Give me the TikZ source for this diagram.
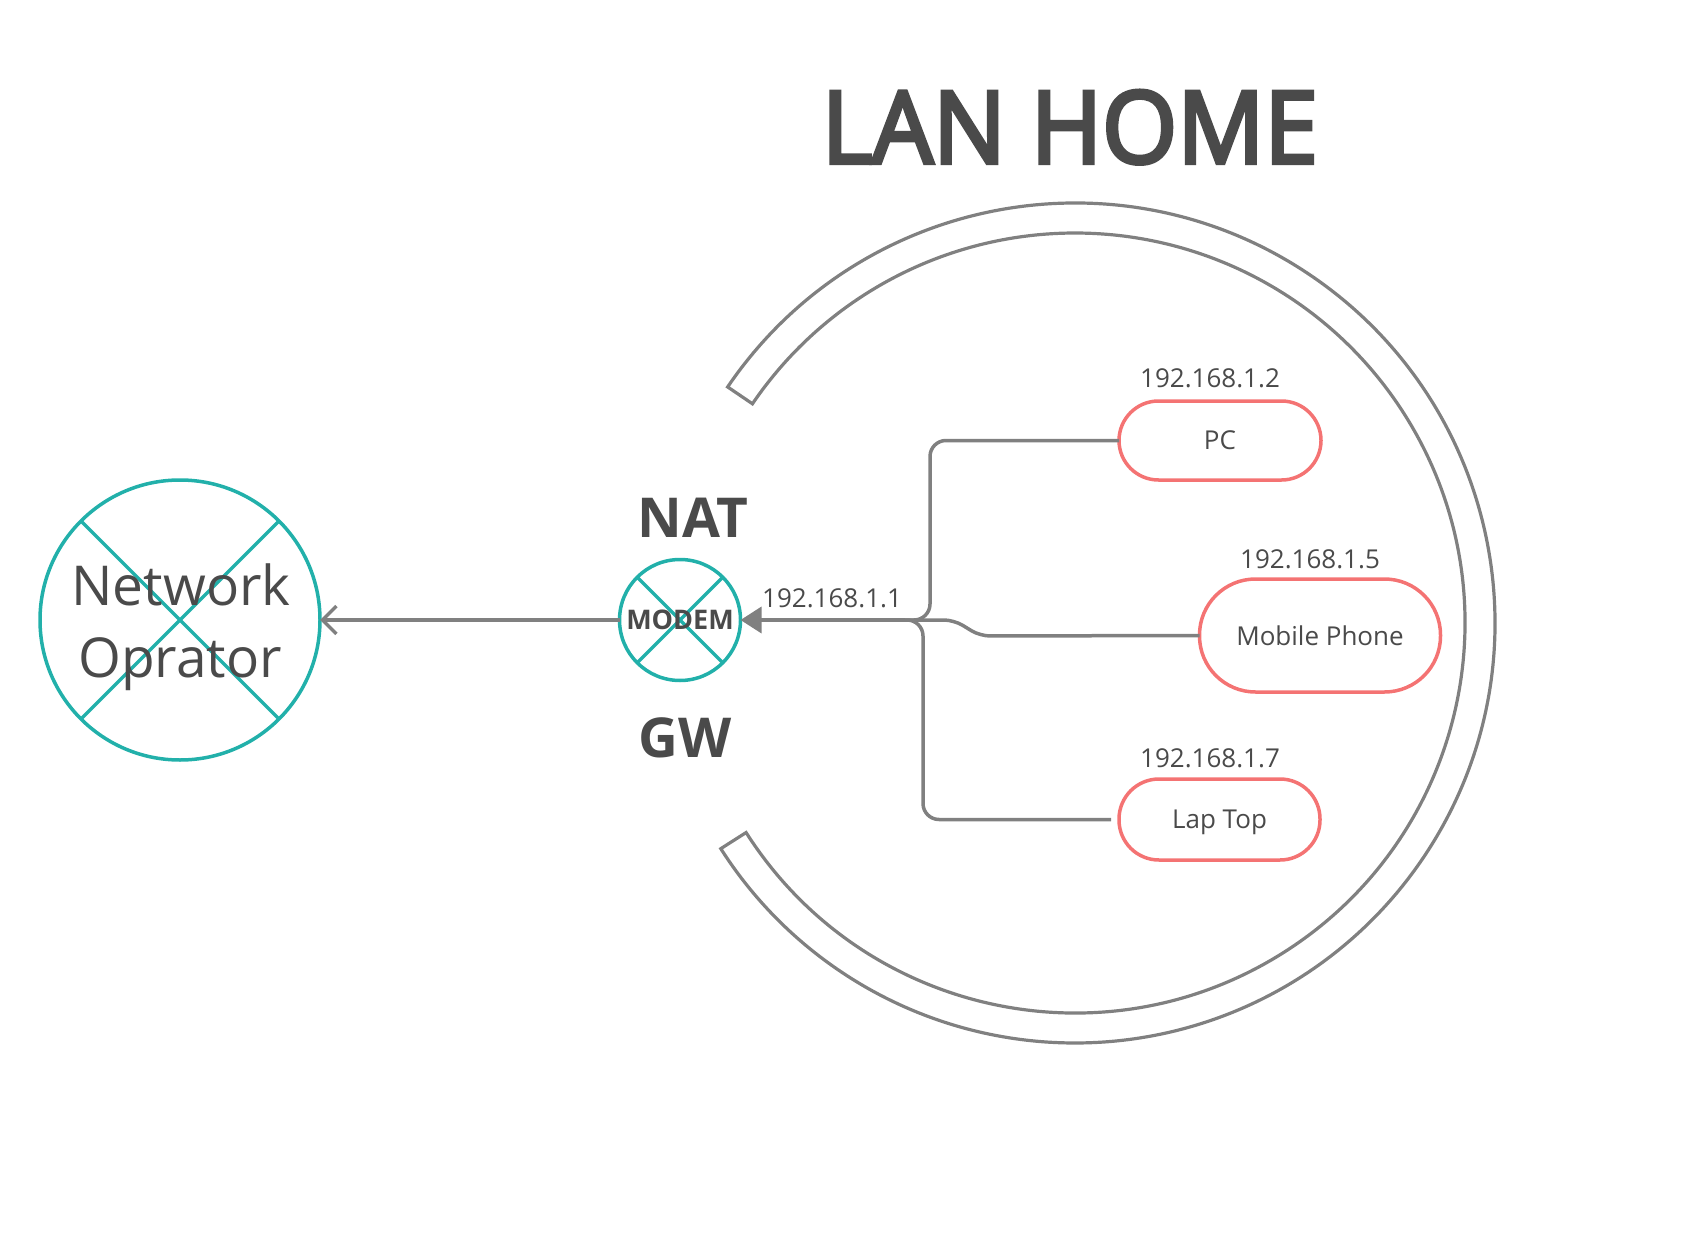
\documentclass[tikz,border=0pt]{standalone}
\usepackage{fontspec}
\setmainfont{Open Sans}
\newfontfamily\titlefont[FakeBold=4]{Open Sans}
\usetikzlibrary{arrows.meta,calc}
\definecolor{tealc}{HTML}{22B0AA}
\definecolor{lineg}{HTML}{808080}
\definecolor{txtc}{HTML}{4A4A4A}
\definecolor{boxr}{HTML}{F47373}
\begin{document}
\begin{tikzpicture}[x=1pt,y=-1pt,
  con/.style={draw=lineg, line width=3.5pt},
  xcirc/.style={circle, draw=tealc, line width=3.5pt, inner sep=0pt, outer sep=0pt},
  xline/.style={draw=tealc, line width=3.5pt},
  devbox/.style={draw=boxr, line width=3.5pt, inner sep=0pt, outer sep=0pt, text depth=0pt,
                 text=txtc, font=\fontsize{26}{30}\selectfont},
  iplabel/.style={anchor=base, text=txtc, inner sep=0pt, font=\fontsize{26}{30}\selectfont},
  bigbold/.style={anchor=base, text=txtc, inner sep=0pt, font=\bfseries\fontsize{55}{66}\selectfont},
  ringline/.style={draw=lineg, line width=3.2pt, line join=miter}
]
\useasboundingbox (0,0) rectangle (1697,1249);

% title
\node[anchor=base, text=txtc, inner sep=0pt, font=\titlefont\fontsize{100}{120}\selectfont] (title) at (1070,163) {\scalebox{0.965}[1]{LAN HOME}};

% ring
\coordinate (ringc) at (1075,623);
\draw[ringline] ([shift={(-145.8:420)}]ringc) arc[start angle=-145.8, end angle=147.5, radius=420]
  -- ([shift={(147.5:390)}]ringc) arc[start angle=147.5, end angle=-145.8, radius=390] -- cycle;

% network operator
\node[xcirc, minimum size=280pt] (netop) at (180,620) {};
\draw[xline] (netop.45) -- (netop.225) (netop.135) -- (netop.-45);
\node[anchor=base, text=txtc, inner sep=0pt, font=\fontsize{55}{66}\selectfont] (netl1) at (181,605) {Network};
\node[anchor=base, text=txtc, inner sep=0pt, font=\fontsize{55}{66}\selectfont] (netl2) at (180,677) {Oprator};

% modem
\node[xcirc, minimum size=121pt] (modem) at (680,620) {};
\draw[xline] (modem.45) -- (modem.225) (modem.135) -- (modem.-45);
\node[text=txtc, inner sep=0pt, font=\bfseries\fontsize{27}{32}\selectfont] (modeml) at (680,620) {MODEM};
\node[bigbold] (nat) at (693,537) {NAT};
\node[bigbold] (gw) at (685,757) {GW};
\node[iplabel, anchor=base west] (ip1) at (762,607) {192.168.1.1};

% devices
\node[devbox, minimum width=202pt, minimum height=79pt, rounded corners=39.5pt] (pc) at (1220,440.5) {PC};
\node[devbox, minimum width=241pt, minimum height=113pt, rounded corners=56pt] (mob) at (1320,635.5) {Mobile Phone};
\node[devbox, minimum width=201pt, minimum height=81pt, rounded corners=40pt] (lap) at (1219.5,819.5) {Lap Top};
\node[iplabel] (ip2) at (1210,387) {192.168.1.2};
\node[iplabel] (ip5) at (1310,568) {192.168.1.5};
\node[iplabel] (ip7) at (1210,767) {192.168.1.7};

% connectors
\coordinate (hub) at (905,620);
\draw[con, -{Triangle[length=21pt,width=26pt]}] (hub) -- (modem.east);
\draw[con, -{Straight Barb[length=14pt,width=28pt]}] (modem.west) -- (netop.east);
\draw[con, rounded corners=16pt] (pc.west) -| (930,620) -- (hub);
\draw[con, rounded corners=10pt] (hub) -- (954,620) -- (980,636) -- (mob.west);
\draw[con, rounded corners=16pt] (hub) -- (923,620) |- ($(lap.west)+(-8,0)$);
\end{tikzpicture}
\end{document}
